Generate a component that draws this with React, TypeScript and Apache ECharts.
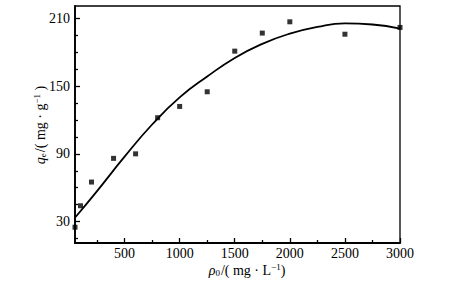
import React, { useEffect, useRef } from "react";
import * as echarts from "echarts";

const pointX = [50, 100, 200, 400, 600, 800, 1000, 1250, 1500, 1750, 2000, 2500, 3000];
const pointY = [25, 44, 65, 86, 90, 122, 132, 145, 181, 197, 207, 196, 202];

const fitX = [55, 250, 500, 750, 1000, 1250, 1500, 1750, 2000, 2250, 2500, 2750, 3000];
const fitY = [34, 57, 87.5, 116, 140, 158.5, 175, 187.5, 196.5, 202.5, 205.6, 204.6, 201];

const xMajor = [500, 1000, 1500, 2000, 2500, 3000];
const xMinor = [250, 750, 1250, 1750, 2250, 2750];
const yMajor = [30, 90, 150, 210];
const yMinor = [15, 45, 60, 75, 105, 120, 135, 165, 180, 195];

const FONT = "Liberation Serif";

export default function App() {
  const ref = useRef<HTMLDivElement>(null);
  useEffect(() => {
    const chart = echarts.init(ref.current!, null, { renderer: "svg" });
    const xBase = { type: "value", min: 50, max: 3000, splitLine: { show: false }, gridIndex: 0 };
    const yBase = { type: "value", min: 11, max: 221, splitLine: { show: false }, gridIndex: 0 };
    const rich = {
      it: { fontFamily: FONT, fontSize: 14, fontStyle: "italic", fill: "#000", color: "#000" },
      sub: { fontFamily: FONT, fontSize: 9, fill: "#000", color: "#000", verticalAlign: "bottom", padding: [6, 1, 0, 0] },
      n: { fontFamily: FONT, fontSize: 14, fill: "#000", color: "#000" },
      sup: { fontFamily: FONT, fontSize: 9, fill: "#000", color: "#000", verticalAlign: "top", padding: [0, 0, 5, 0] },
    };
    chart.setOption({
      animation: false,
      backgroundColor: "#fff",
      textStyle: { fontFamily: FONT },
      grid: { left: 75, right: 67, top: 6, bottom: 42, show: true, borderColor: "#000", borderWidth: 1.3, backgroundColor: "transparent" },
      xAxis: [
        {
          ...xBase,
          position: "bottom",
          axisLine: { show: true, lineStyle: { color: "#000", width: 1.8 } },
          axisTick: { show: true, inside: true, length: 5, customValues: xMajor, lineStyle: { color: "#000", width: 1.3 } },
          axisLabel: { customValues: xMajor, formatter: (v: number) => String(v), color: "#000", fontFamily: FONT, fontSize: 14, margin: 3 },
        },
        {
          ...xBase,
          position: "bottom",
          axisLine: { show: false },
          axisTick: { show: true, inside: true, length: 3, customValues: xMinor, lineStyle: { color: "#000", width: 1.3 } },
          axisLabel: { show: false },
        },
      ],
      yAxis: [
        {
          ...yBase,
          position: "left",
          axisLine: { show: true, lineStyle: { color: "#000", width: 1.8 } },
          axisTick: { show: true, inside: true, length: 5, customValues: yMajor, lineStyle: { color: "#000", width: 1.3 } },
          axisLabel: { customValues: yMajor, formatter: (v: number) => String(v), color: "#000", fontFamily: FONT, fontSize: 14, margin: 5 },
        },
        {
          ...yBase,
          position: "left",
          axisLine: { show: false },
          axisTick: { show: true, inside: true, length: 3, customValues: yMinor, lineStyle: { color: "#000", width: 1.3 } },
          axisLabel: { show: false },
        },
      ],
      graphic: [
        {
          type: "text",
          x: 247,
          y: 270,
          style: {
            text: "{it|ρ}{sub|0}{n|/( mg · L}{sup|−1}{n|)}",
            align: "center",
            verticalAlign: "middle",
            rich,
          },
        },
        {
          type: "text",
          x: 40,
          y: 125,
          rotation: Math.PI / 2,
          style: {
            text: "{it|q}{sub|e}{n|/( mg · g}{sup|−1}{n| )}",
            align: "center",
            verticalAlign: "middle",
            rich,
          },
        },
      ],
      series: [
        {
          type: "line",
          xAxisIndex: 0,
          yAxisIndex: 0,
          data: fitX.map((x, i) => [x, fitY[i]]),
          smooth: 0.5,
          showSymbol: false,
          lineStyle: { color: "#000", width: 1.8 },
          clip: true,
          z: 2,
        },
        {
          type: "scatter",
          xAxisIndex: 0,
          yAxisIndex: 0,
          data: pointX.map((x, i) => [x, pointY[i]]),
          symbol: "rect",
          symbolSize: 5,
          itemStyle: { color: "#000" },
          clip: false,
          z: 3,
        },
      ],
    });
    return () => chart.dispose();
  }, []);
  return <div ref={ref} style={{ width: 467, height: 285, position: "absolute", left: 0, top: 0 }} />;
}
